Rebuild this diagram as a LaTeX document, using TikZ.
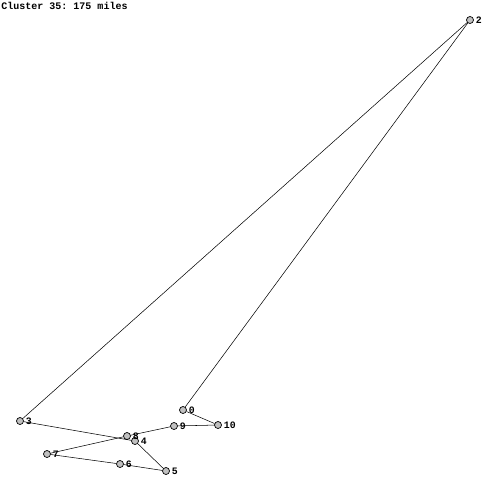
\documentclass[tikz,border=0pt]{standalone}
\usepackage{fontspec}
\setmonofont{Liberation Mono}
\usepackage{xcolor}
\definecolor{stopgray}{RGB}{192,192,192}

\begin{document}
\begin{tikzpicture}[x=0.02cm, y=-0.02cm,
	stop/.style={draw, circle, fill=stopgray, line width=0.4pt, inner sep=0pt, minimum size=0.14cm,
		label={[label distance=0.5pt, font=\ttfamily\bfseries\fontsize{5.6}{6}\selectfont, inner sep=0.5pt]right:#1}}]
	\useasboundingbox (0,0) rectangle (500,500);
	\node (title) [anchor=north west, inner sep=0pt, font=\ttfamily\bfseries\fontsize{5.7}{6}\selectfont] at (1,2) {Cluster 35: 175 miles};
	\node (n2) [stop=2] at (470, 20) {};
	\node (n3) [stop=3] at (20, 421) {};
	\node (n4) [stop=4] at (135, 441) {};
	\node (n5) [stop=5] at (166, 471) {};
	\node (n6) [stop=6] at (120, 464) {};
	\node (n7) [stop=7] at (47, 454) {};
	\node (n8) [stop=8] at (127, 436) {};
	\node (n9) [stop=9] at (174, 426) {};
	\node (n10) [stop=10] at (218, 425) {};
	\node (n0) [stop=0] at (183, 410) {};
	\draw[line width=0.3pt] (n2) -- (n3);
	\draw[line width=0.3pt] (n3) -- (n4);
	\draw[line width=0.3pt] (n4) -- (n5);
	\draw[line width=0.3pt] (n5) -- (n6);
	\draw[line width=0.3pt] (n6) -- (n7);
	\draw[line width=0.3pt] (n7) -- (n8);
	\draw[line width=0.3pt] (n8) -- (n9);
	\draw[line width=0.3pt] (n9) -- (n10);
	\draw[line width=0.3pt] (n10) -- (n0);
	\draw[line width=0.3pt] (n0) -- (n2);
\end{tikzpicture}
\end{document}
